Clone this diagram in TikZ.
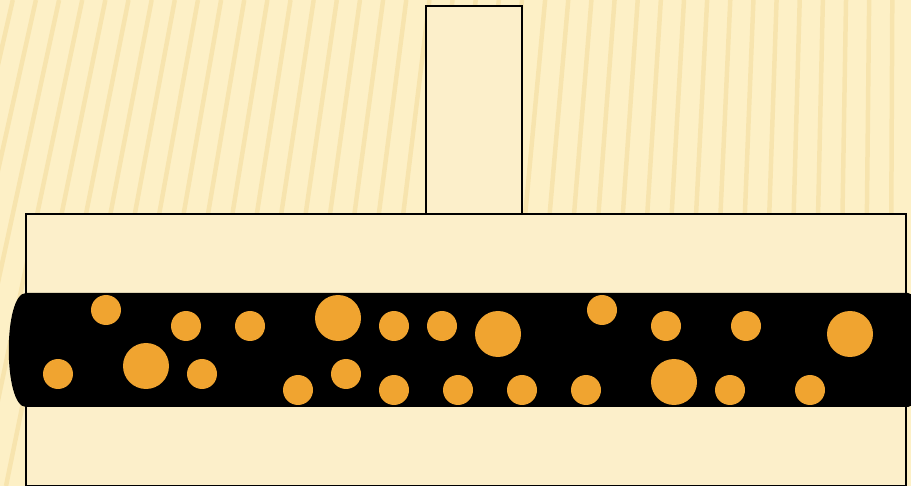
\documentclass[tikz,border=0pt]{standalone}
\definecolor{bgcream}{HTML}{FDF0C6}
\definecolor{stripe}{HTML}{F5DFA2}
\definecolor{boxfill}{HTML}{FCEFCA}
\definecolor{bead}{HTML}{F0A430}
\begin{document}
\begin{tikzpicture}[x=1pt,y=-1pt,
  outline/.style={draw=black,line width=1.6pt,fill=boxfill},
  smallbead/.style={circle,fill=bead,inner sep=0pt,minimum size=30pt},
  bigbead/.style={circle,fill=bead,inner sep=0pt,minimum size=46pt}]
\useasboundingbox (0,0) rectangle (911,486);
% background
\fill[bgcream] (0,0) rectangle (911,486);
\begin{scope}
\clip (0,0) rectangle (911,486);
\foreach \x in {-150,-124,...,1000}{
  \pgfmathsetmacro{\off}{100*(1-\x/911)}
  \draw[stripe,line width=4.5pt,opacity=0.65] (\x,486) -- (\x+\off,0);
}
\end{scope}
% stem and body
\draw[outline] (426,6) rectangle (522,214);
\draw[outline] (26,214) rectangle (906,486);
% black band
\fill[black] (26,293) -- (908,293) arc[start angle=-90,end angle=0,radius=5] -- (913,402)
  arc[start angle=0,end angle=90,radius=5] -- (26,407)
  .. controls (3,407) and (3,293) .. (26,293) -- cycle;
% small beads
\foreach \i/\p in {a/{(106,310)},b/{(186,326)},c/{(250,326)},d/{(394,326)},e/{(442,326)},
  f/{(602,310)},g/{(666,326)},h/{(746,326)},i/{(58,374)},j/{(202,374)},k/{(346,374)},
  l/{(298,390)},m/{(394,390)},n/{(458,390)},o/{(522,390)},p/{(586,390)},q/{(730,390)},r/{(810,390)}}
  \node[smallbead] (s\i) at \p {};
% big beads
\foreach \i/\p in {a/{(146,366)},b/{(338,318)},c/{(498,334)},d/{(674,382)},e/{(850,334)}}
  \node[bigbead] (b\i) at \p {};
\end{tikzpicture}
\end{document}
